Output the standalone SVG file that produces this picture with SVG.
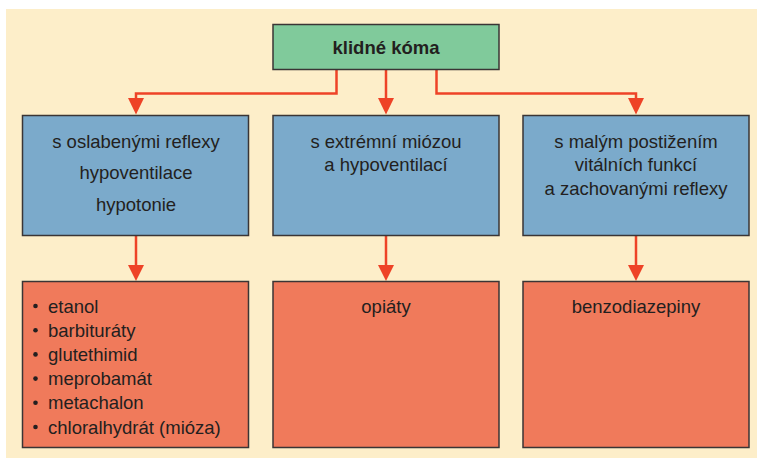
<svg xmlns="http://www.w3.org/2000/svg" width="757" height="458" viewBox="0 0 757 458">
<defs>
<style>
.bg{fill:#FDEEC9}
.box{stroke:#3a3535;stroke-width:1.5}
.green{fill:#80CA9B}
.blue{fill:#7BAACB}
.red{fill:#F07A5B}
.t{font-family:"Liberation Sans",Arial,sans-serif;font-size:18.5px;fill:#231F20}
.c{text-anchor:middle}
.b{font-weight:bold}
.conn{fill:none;stroke:#EE4327;stroke-width:2.5}
.head{fill:#EE4327}
</style>
</defs>
<rect class="bg" x="6" y="9" width="751" height="449"/>
<g id="connectors">
<path class="conn" d="M336.5 69.5 V93.5 H136 V100"/>
<polygon class="head" points="128,98 144,98 136,114.5"/>
<path class="conn" d="M386 69.5 V100"/>
<polygon class="head" points="378,98 394,98 386,114.5"/>
<path class="conn" d="M436.5 69.5 V93.5 H636 V100"/>
<polygon class="head" points="628,98 644,98 636,114.5"/>
<path class="conn" d="M136 235.5 V266"/>
<polygon class="head" points="128,265 144,265 136,281"/>
<path class="conn" d="M386 235.5 V266"/>
<polygon class="head" points="378,265 394,265 386,281"/>
<path class="conn" d="M636 235.5 V266"/>
<polygon class="head" points="628,265 644,265 636,281"/>
</g>
<g id="root">
<rect class="box green" x="273" y="24.5" width="226" height="45"/>
<text class="t c b" x="386" y="53.5">klidné kóma</text>
</g>
<g id="weak-reflexes">
<rect class="box blue" x="22.5" y="115.5" width="226" height="120"/>
<text class="t c" x="136" y="147.5">s oslabenými reflexy</text>
<text class="t c" x="136" y="179">hypoventilace</text>
<text class="t c" x="136" y="210.5">hypotonie</text>
</g>
<g id="miosis">
<rect class="box blue" x="273" y="115.5" width="226" height="120"/>
<text class="t c" x="386" y="147.5">s extrémní miózou</text>
<text class="t c" x="386" y="171">a hypoventilací</text>
</g>
<g id="mild">
<rect class="box blue" x="523" y="115.5" width="226" height="120"/>
<text class="t c" x="636" y="147.5">s malým postižením</text>
<text class="t c" x="636" y="171">vitálních funkcí</text>
<text class="t c" x="636" y="194.5">a zachovanými reflexy</text>
</g>
<g id="drugs-1">
<rect class="box red" x="22.5" y="281.5" width="226" height="166"/>
<g fill="#231F20">
<circle cx="35.5" cy="306" r="2.3"/>
<circle cx="35.5" cy="330.2" r="2.3"/>
<circle cx="35.5" cy="354.4" r="2.3"/>
<circle cx="35.5" cy="378.6" r="2.3"/>
<circle cx="35.5" cy="402.8" r="2.3"/>
<circle cx="35.5" cy="427" r="2.3"/>
</g>
<text class="t" x="48" y="312.5">etanol</text>
<text class="t" x="48" y="336.7">barbituráty</text>
<text class="t" x="48" y="360.9">glutethimid</text>
<text class="t" x="48" y="385.1">meprobamát</text>
<text class="t" x="48" y="409.3">metachalon</text>
<text class="t" x="48" y="433.5">chloralhydrát (mióza)</text>
</g>
<g id="drugs-2">
<rect class="box red" x="273" y="281.5" width="226" height="166"/>
<text class="t c" x="386" y="312.5">opiáty</text>
</g>
<g id="drugs-3">
<rect class="box red" x="523" y="281.5" width="226" height="166"/>
<text class="t c" x="636" y="312.5">benzodiazepiny</text>
</g>
</svg>
